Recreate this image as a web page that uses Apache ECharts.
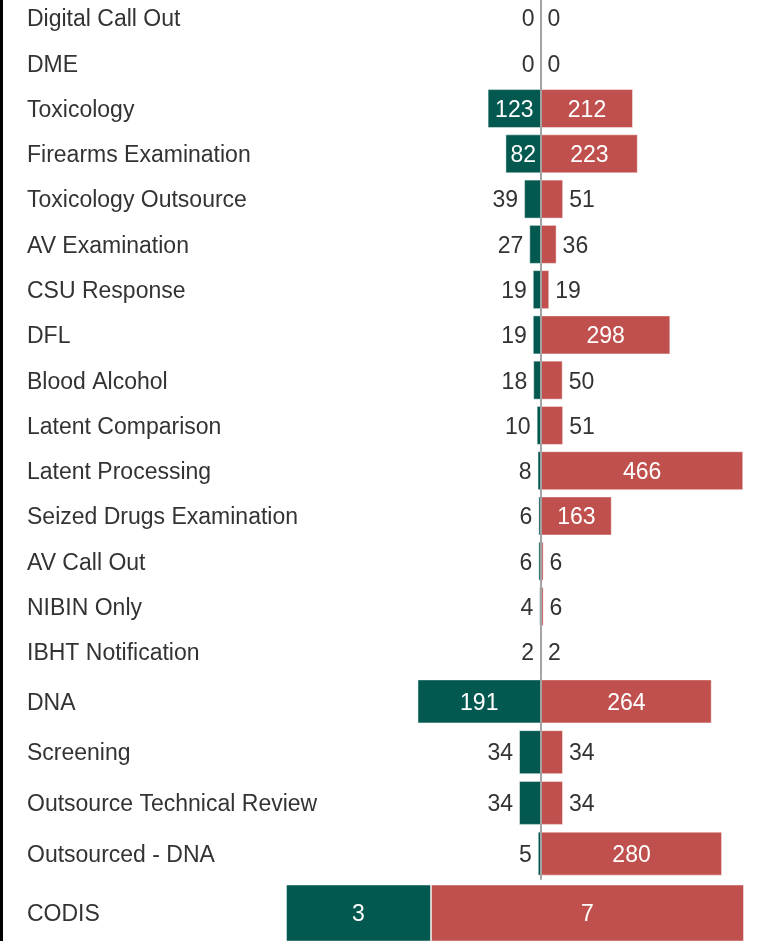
<!DOCTYPE html>
<html>
<head>
<meta charset="utf-8">
<script src="https://cdn.jsdelivr.net/npm/echarts@6/dist/echarts.min.js"></script>
<style>
  html, body { margin: 0; padding: 0; background: #fff; overflow: hidden; }
  #wrap { width: 769px; height: 941px; overflow: hidden; position: relative; }
  /* chart sits 20px higher so the first row can start above the top edge */
  #chart { width: 769px; height: 961px; position: absolute; left: 0; top: -20px; }
</style>
</head>
<body>
<div id="wrap"><div id="chart"></div></div>
<script>
const topCategories = [
  'Digital Call Out', 'DME', 'Toxicology', 'Firearms Examination', 'Toxicology Outsource',
  'AV Examination', 'CSU Response', 'DFL', 'Blood Alcohol', 'Latent Comparison',
  'Latent Processing', 'Seized Drugs Examination', 'AV Call Out', 'NIBIN Only', 'IBHT Notification'
]
const topLeft = [0, 0, 123, 82, 39, 27, 19, 19, 18, 10, 8, 6, 6, 4, 2]
const topRight = [0, 0, 212, 223, 51, 36, 19, 298, 50, 51, 466, 163, 6, 6, 2]

const dnaCategories = ['DNA', 'Screening', 'Outsource Technical Review', 'Outsourced - DNA']
const dnaLeft = [191, 34, 34, 5]
const dnaRight = [264, 34, 34, 280]

const codisCategories = ['CODIS']
const codisLeft = [3]
const codisRight = [7]

const teal = '#03594f'
const red = '#c0504d'
const textColor = '#333'
const fontFamily = '"Liberation Sans", Arial, sans-serif'
const fontSize = 23
const centerX = 541
const labelX = 27
const shift = 20

// one section = a left grid (inverse) and a right grid meeting at the center line
const sections = [
  { cats: topCategories, left: topLeft, right: topRight, top: -4.6, height: 679,
    leftW: 217, rightW: 217, leftMax: 500, rightMax: 500, barWidth: 39, center: centerX, line: true },
  { cats: dnaCategories, left: dnaLeft, right: dnaRight, top: 676, height: 203,
    leftW: 194, rightW: 194, leftMax: 300, rightMax: 300, barWidth: 44, center: centerX, line: true },
  { cats: codisCategories, left: codisLeft, right: codisRight, top: 885, height: 64,
    leftW: 145, rightW: 313, leftMax: 3, rightMax: 7, barWidth: 58, center: 431, line: false },
]

// text sits ~2px below the bar centre in the reference
const richText = { t: { fontSize: fontSize, fontFamily: fontFamily, padding: [4, 0, 0, 0] } }

function itemLabel(v, pxPerUnit, side) {
  let textW = String(v).length * fontSize * 0.556
  let barW = v * pxPerUnit
  if (barW > textW + 6) {
    return { show: true, position: 'inside', color: '#fff' }
  }
  return { show: true, position: side, distance: 6, color: textColor }
}

let grids = [], xAxes = [], yAxes = [], series = []

sections.forEach((s, i) => {
  let gl = grids.length
  grids.push({ left: s.center - s.leftW, top: s.top + shift, width: s.leftW, height: s.height })
  grids.push({ left: s.center, top: s.top + shift, width: s.rightW, height: s.height })

  xAxes.push({ type: 'value', gridIndex: gl, min: 0, max: s.leftMax, inverse: true, show: false })
  xAxes.push({ type: 'value', gridIndex: gl + 1, min: 0, max: s.rightMax, show: false })

  yAxes.push({
    type: 'category', gridIndex: gl, data: s.cats, inverse: true,
    axisLine: { show: false }, axisTick: { show: false }, splitLine: { show: false },
    axisLabel: {
      align: 'left', margin: s.center - s.leftW - labelX,
      color: textColor, fontSize: fontSize, fontFamily: fontFamily,
      formatter: (v) => `{t|${v}}`, rich: richText
    }
  })
  yAxes.push({
    type: 'category', gridIndex: gl + 1, data: s.cats, inverse: true, z: 5,
    axisLine: { show: s.line, lineStyle: { color: '#a3a3a3', width: 2 } },
    axisTick: { show: false }, axisLabel: { show: false }, splitLine: { show: false }
  })

  let lScale = s.leftW / s.leftMax
  let rScale = s.rightW / s.rightMax
  series.push({
    type: 'bar', xAxisIndex: gl, yAxisIndex: gl, barWidth: s.barWidth,
    itemStyle: { color: teal, borderColor: 'rgba(255,255,255,0.45)', borderWidth: 1 },
    label: { fontSize: fontSize, fontFamily: fontFamily, offset: [0, 2] },
    data: s.left.map(v => ({ value: v, label: itemLabel(v, lScale, 'left') })),
    animation: false
  })
  series.push({
    type: 'bar', xAxisIndex: gl + 1, yAxisIndex: gl + 1, barWidth: s.barWidth,
    itemStyle: { color: red, borderColor: 'rgba(255,255,255,0.45)', borderWidth: 1 },
    label: { fontSize: fontSize, fontFamily: fontFamily, offset: [0, 2] },
    data: s.right.map(v => ({ value: v, label: itemLabel(v, rScale, 'right') })),
    animation: false
  })
})

let chart = echarts.init(document.getElementById('chart'), null, { renderer: 'canvas' })
chart.setOption({
  backgroundColor: '#fff',
  animation: false,
  grid: grids,
  xAxis: xAxes,
  yAxis: yAxes,
  series: series,
  graphic: [
    { type: 'rect', left: 0, top: 0, shape: { width: 3, height: 961 }, style: { fill: '#000' } }
  ]
})
</script>
</body>
</html>
